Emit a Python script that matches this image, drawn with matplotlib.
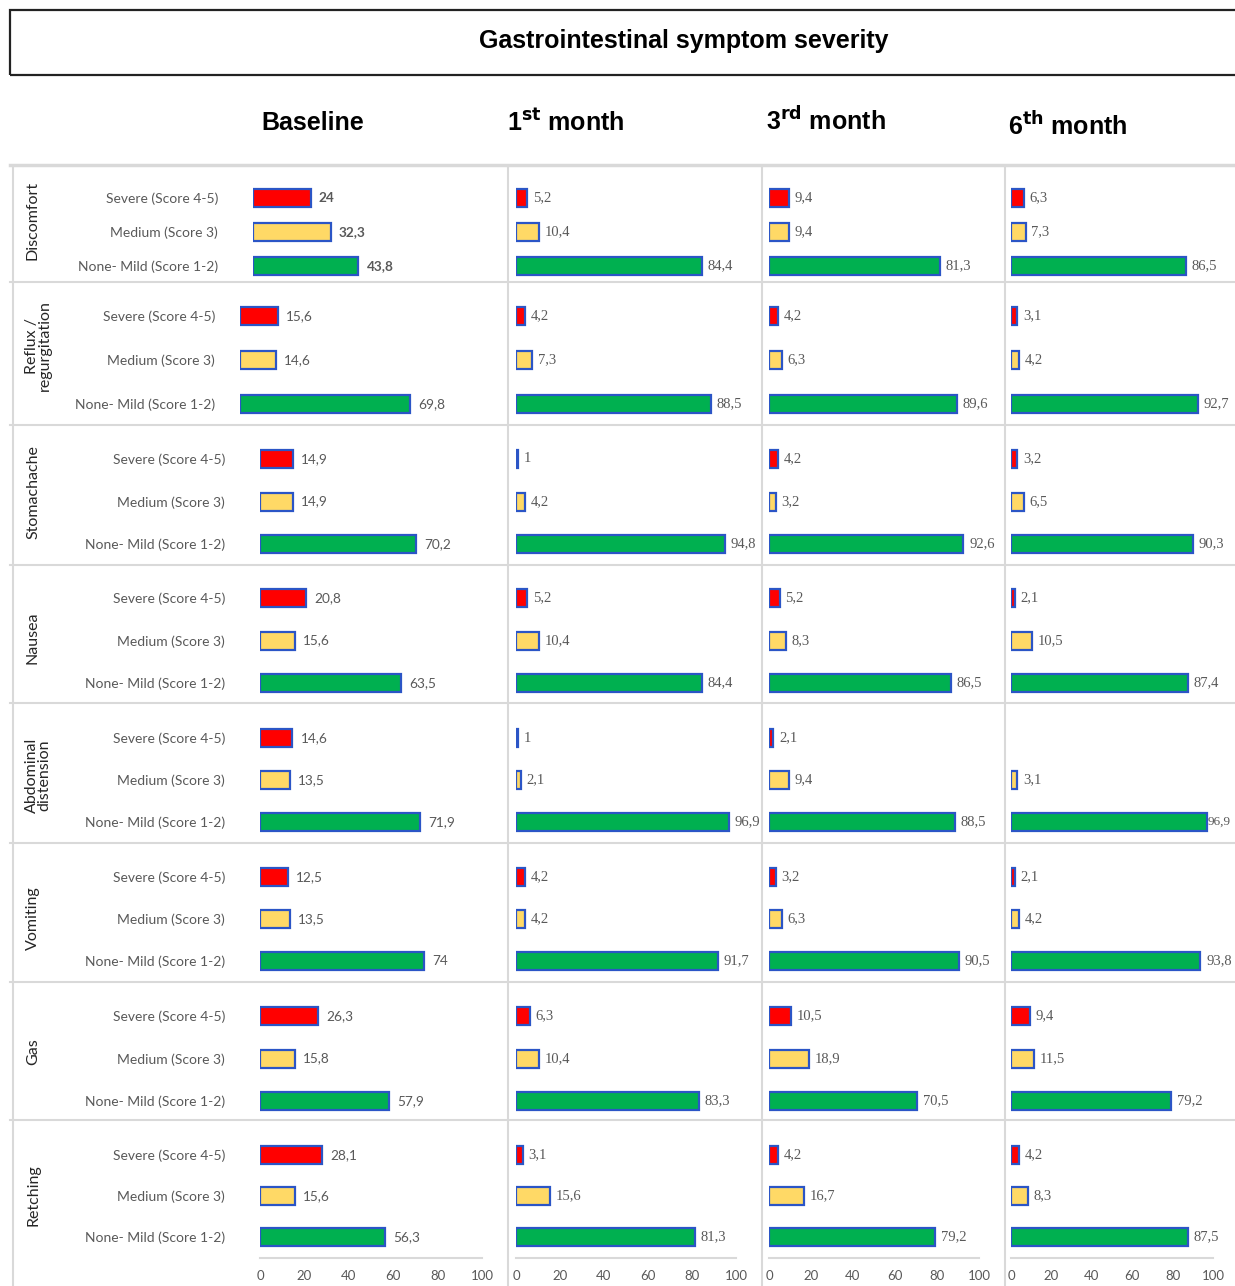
import matplotlib
matplotlib.use("Agg")
import matplotlib.pyplot as plt
from matplotlib.patches import Rectangle
from matplotlib.lines import Line2D

# symptom severity (% of patients) per visit
symptoms = ["Discomfort", "Reflux /\nregurgitation", "Stomachache", "Nausea",
            "Abdominal\ndistension", "Vomiting", "Gas", "Retching"]
levels = ["Severe (Score 4-5)", "Medium (Score 3)", "None- Mild (Score 1-2)"]
periods = ["Baseline", r"1$^{\mathbf{st}}$ month", r"3$^{\mathbf{rd}}$ month",
           r"6$^{\mathbf{th}}$ month"]

severe_base = [24, 15.6, 14.9, 20.8, 14.6, 12.5, 26.3, 28.1]
medium_base = [32.3, 14.6, 14.9, 15.6, 13.5, 13.5, 15.8, 15.6]
mild_base = [43.8, 69.8, 70.2, 63.5, 71.9, 74, 57.9, 56.3]

severe_m1 = [5.2, 4.2, 1, 5.2, 1, 4.2, 6.3, 3.1]
medium_m1 = [10.4, 7.3, 4.2, 10.4, 2.1, 4.2, 10.4, 15.6]
mild_m1 = [84.4, 88.5, 94.8, 84.4, 96.9, 91.7, 83.3, 81.3]

severe_m3 = [9.4, 4.2, 4.2, 5.2, 2.1, 3.2, 10.5, 4.2]
medium_m3 = [9.4, 6.3, 3.2, 8.3, 9.4, 6.3, 18.9, 16.7]
mild_m3 = [81.3, 89.6, 92.6, 86.5, 88.5, 90.5, 70.5, 79.2]

severe_m6 = [6.3, 3.1, 3.2, 2.1, None, 2.1, 9.4, 4.2]
medium_m6 = [7.3, 4.2, 6.5, 10.5, 3.1, 4.2, 11.5, 8.3]
mild_m6 = [86.5, 92.7, 90.3, 87.4, 96.9, 93.8, 79.2, 87.5]

xticks = [0, 20, 40, 60, 80, 100]

table = [
    (severe_base, medium_base, mild_base),
    (severe_m1, medium_m1, mild_m1),
    (severe_m3, medium_m3, mild_m3),
    (severe_m6, medium_m6, mild_m6),
]

# page layout in pixels
W, H = 1235, 1286
row_lines = [282, 425, 565, 703, 843, 982, 1120]
bar_first = [198, 316, 459, 598, 738, 877, 1016, 1155]
bar_last = [266, 404, 544, 683, 822, 961, 1101, 1237]
name_y = [220, 346, 492, 638, 775, 918, 1052, 1195]
name_x = [33, 38, 33, 33, 38, 33, 33, 33]
col_x0 = [260, 516, 769, 1011]
col_x100 = [482, 736, 979, 1213]
base_x0 = [253, 240, 260, 260, 260, 260, 260, 260]
base_x100 = [493, 484, 482, 482, 482, 482, 482, 482]
label_right = [218, 215, 225, 225, 225, 225, 225, 225]
header_xy = [(313, 123), (566, 123), (826, 121), (1068, 126)]

colors = ["#FF0000", "#FFD966", "#00B050"]
edge = "#2B55C6"
grid_c = "#D9D9D9"
text_c = "#595959"
small_font = "Lato"


def fmt(v):
    return ("%g" % v).replace(".", ",")


fig = plt.figure(figsize=(W / 100, H / 100), dpi=100)

# title box
fig.patches.append(Rectangle((10 / W, 1 - 75 / H), 1240 / W, 65 / H,
                             transform=fig.transFigure, fill=False,
                             edgecolor="#222222", linewidth=1.6))
fig.text(684 / W, 1 - 41 / H, "Gastrointestinal symptom severity",
         ha="center", va="center", fontsize=18, fontweight="bold",
         family="Liberation Sans")

for (hx, hy), lab in zip(header_xy, periods):
    fig.text(hx / W, 1 - hy / H, lab, ha="center", va="center", fontsize=18,
             fontweight="bold", family="Liberation Sans")

# table grid
fig.lines.append(Line2D([10 / W, 1], [1 - 165 / H] * 2, color=grid_c, lw=2.5,
                        transform=fig.transFigure))
for y in row_lines:
    fig.lines.append(Line2D([10 / W, 1], [1 - y / H] * 2, color=grid_c, lw=1.5,
                            transform=fig.transFigure))
for x in [13, 508, 762, 1005]:
    fig.lines.append(Line2D([x / W] * 2, [0, 1 - 167 / H], color=grid_c, lw=1.5,
                            transform=fig.transFigure))

n_rows = len(symptoms)
for r in range(n_rows):
    sp = (bar_last[r] - bar_first[r]) / 2
    ytop = bar_first[r] - sp / 2
    ybot = bar_last[r] + sp / 2
    fig.text(name_x[r] / W, 1 - name_y[r] / H, symptoms[r], rotation=90,
             ha="center", va="center", fontsize=11.5, color="#262626",
             family=small_font, linespacing=0.9)
    for c in range(4):
        if c == 0:
            x0, x100 = base_x0[r], base_x100[r]
        else:
            x0, x100 = col_x0[c], col_x100[c]
        ax = fig.add_axes([x0 / W, 1 - ybot / H, (x100 - x0) / W, (ybot - ytop) / H])
        ax.set_xlim(0, 100)
        ax.set_ylim(2.5, -0.5)
        ax.patch.set_visible(False)
        for s in ax.spines.values():
            s.set_visible(False)

        vals = [table[c][k][r] for k in range(3)]
        for k, v in enumerate(vals):
            if v is None:
                continue
            ax.barh(k, v, height=18 / sp, color=colors[k], edgecolor=edge,
                    linewidth=1.6)
            if c == 0:
                ax.annotate(fmt(v), (v, k), xytext=(6, 0), textcoords="offset points",
                            va="center", ha="left", fontsize=9.8, color=text_c,
                            family=small_font,
                            fontweight="bold" if r == 0 else "normal")
            else:
                # long bars in the last column leave little room before the page edge
                tight = c == 3 and v > 95
                ax.annotate(fmt(v), (v, k), xytext=(0.5 if tight else 4, 0),
                            textcoords="offset points", va="center", ha="left",
                            fontsize=9.5 if tight else 10.5, color=text_c,
                            family="Liberation Serif")

        if c == 0:
            ax.set_yticks([0, 1, 2], levels)
            ax.tick_params(axis="y", length=0, pad=(x0 - label_right[r]) * 0.72,
                           labelsize=10, labelcolor=text_c)
            for t in ax.get_yticklabels():
                t.set_family(small_font)
        else:
            ax.set_yticks([])

        if r == n_rows - 1:
            ax.spines["bottom"].set_visible(True)
            ax.spines["bottom"].set_color(grid_c)
            ax.spines["bottom"].set_linewidth(1.5)
            ax.set_xticks(xticks)
            ax.tick_params(axis="x", length=0, pad=9, labelsize=9.5,
                           labelcolor=text_c)
            for t in ax.get_xticklabels():
                t.set_family(small_font)
        else:
            ax.set_xticks([])

fig.savefig("out.png", dpi=100)
